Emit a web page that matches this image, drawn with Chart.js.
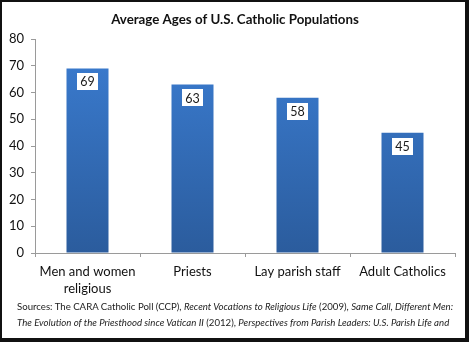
<!DOCTYPE html>
<html>
<head>
<meta charset="utf-8">
<script src="https://cdn.jsdelivr.net/npm/chart.js@4/dist/chart.umd.min.js"></script>
<style>
  html, body { margin: 0; padding: 0; background: #fff; }
  #frame { position: absolute; left: 0; top: 0; width: 470px; height: 343px; background: #fff; overflow: hidden; }
  #c { position: absolute; left: 0; top: 0; }
  #src { position: absolute; left: 17px; top: 298px; font-family: Lato, "Open Sans", sans-serif; font-size: 9.65px; line-height: 16px; color: #222; white-space: nowrap; }
  #border { position: absolute; left: 0; top: 0; width: 463px; height: 336px; border-left: 2px solid #111; border-top: 2px solid #111; border-right: 4px solid #111; border-bottom: 4px solid #111; }
</style>
</head>
<body>
<div id="frame">
  <canvas id="c" width="470" height="300"></canvas>
  <div id="src">Sources: The CARA Catholic Poll (CCP), <i>Recent Vocations to Religious Life</i> (2009), <i>Same Call, Different Men:</i><br><i>The Evolution of the Priesthood since Vatican II</i> (2012), <i>Perspectives from Parish Leaders: U.S. Parish Life and</i></div>
  <div id="border"></div>
</div>
<script>
const categories = [["Men and women", "religious"], "Priests", "Lay parish staff", "Adult Catholics"];
const averageAges = [69, 63, 58, 45];
const yTicks = [0, 10, 20, 30, 40, 50, 60, 70, 80];
const chartTitle = "Average Ages of U.S. Catholic Populations";

const FONT = "Lato, 'Open Sans', sans-serif";

function barGradient(ctx) {
  const chart = ctx.chart;
  const area = chart.chartArea;
  if (!area) return "#3470bb";
  const g = chart.ctx.createLinearGradient(0, area.top, 0, area.bottom);
  g.addColorStop(0, "#3b7dd2");
  g.addColorStop(1, "#2b5c9d");
  return g;
}

// Title centred across the whole canvas
const centredTitle = {
  id: "centredTitle",
  afterDraw(chart) {
    const c = chart.ctx;
    c.save();
    c.font = "bold 13.3px " + FONT;
    c.fillStyle = "#111";
    c.textAlign = "center";
    c.textBaseline = "middle";
    c.fillText(chartTitle, chart.width / 2, 20);
    c.restore();
  }
};

// White value boxes drawn just inside the top of every bar
const valueBoxes = {
  id: "valueBoxes",
  afterDatasetsDraw(chart) {
    const c = chart.ctx;
    const meta = chart.getDatasetMeta(0);
    const data = chart.data.datasets[0].data;
    c.save();
    c.font = "12.5px " + FONT;
    c.textAlign = "center";
    c.textBaseline = "middle";
    meta.data.forEach((bar, i) => {
      const w = 21, h = 17;
      const top = bar.y + 5;
      c.fillStyle = "#ffffff";
      c.fillRect(Math.round(bar.x - w / 2), Math.round(top), w, h);
      c.fillStyle = "#1a1a1a";
      c.fillText(String(data[i]), bar.x, top + h / 2 + 0.5);
    });
    c.restore();
  }
};

new Chart(document.getElementById("c"), {
  type: "bar",
  data: {
    labels: categories,
    datasets: [{
      data: averageAges,
      backgroundColor: barGradient,
      borderWidth: 0,
      barPercentage: 0.8,
      categoryPercentage: 0.5
    }]
  },
  options: {
    responsive: false,
    animation: false,
    events: [],
    layout: { padding: { left: 0, right: 15, top: 39, bottom: 0 } },
    plugins: {
      legend: { display: false },
      tooltip: { enabled: false },
      title: { display: false }
    },
    scales: {
      x: {
        grid: { display: true, drawOnChartArea: false, drawTicks: true, tickLength: 4, color: "#9a9a9a", offset: true },
        border: { display: true, color: "#9a9a9a", width: 1 },
        ticks: { color: "#111", font: { family: FONT, size: 13, lineHeight: 1.3 }, padding: 6, maxRotation: 0, autoSkip: false },
        afterFit(scale) { scale.height = 47; }
      },
      y: {
        min: 0,
        max: 80,
        afterBuildTicks(scale) { scale.ticks = yTicks.map(v => ({ value: v })); },
        grid: { display: true, drawOnChartArea: false, drawTicks: true, tickLength: 4, color: "#9a9a9a" },
        border: { display: true, color: "#9a9a9a", width: 1 },
        ticks: { color: "#111", font: { family: FONT, size: 13 }, padding: 7 },
        afterFit(scale) { scale.width = 35; }
      }
    }
  },
  plugins: [valueBoxes, centredTitle]
});
</script>
</body>
</html>
